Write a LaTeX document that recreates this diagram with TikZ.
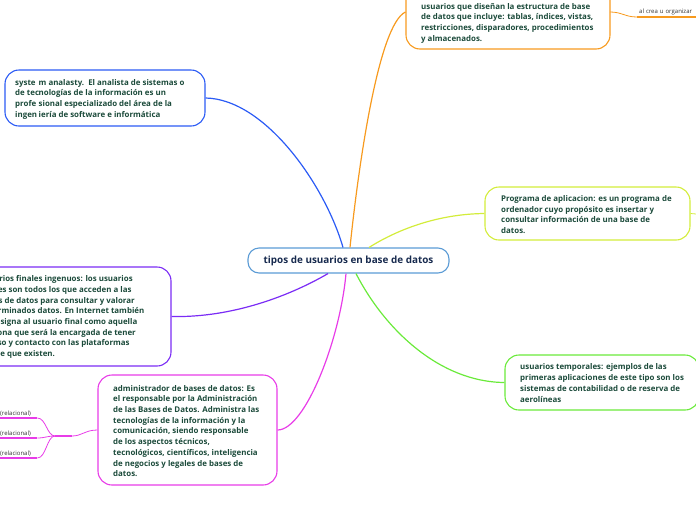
\documentclass[tikz,border=0pt]{standalone}
\usepackage{fontspec}
\setmainfont{Open Sans}
\usetikzlibrary{calc}
\definecolor{txt}{HTML}{1B4A3A}
\definecolor{navy}{HTML}{172A4E}
\definecolor{cblue}{HTML}{5B9BD5}
\definecolor{bblue}{HTML}{2B5BF5}
\definecolor{borange}{HTML}{F79A1E}
\definecolor{bylw}{HTML}{D3EC3A}
\definecolor{bgreen}{HTML}{6AEA3A}
\definecolor{bpurple}{HTML}{7B2CF5}
\definecolor{bmagenta}{HTML}{E83CE8}
\definecolor{smalltxt}{HTML}{333333}
\begin{document}
\begin{tikzpicture}[x=1pt,y=-1pt,
  box/.style={draw, rounded corners=14pt, line width=1.1pt, inner sep=0pt},
  txtn/.style={anchor=west, inner sep=0pt, align=left, text=txt,
    font=\bfseries\fontsize{7.9}{10.7}\selectfont},
  conn/.style={line width=1.2pt},
  reln/.style={anchor=south west, inner xsep=0pt, inner ysep=1.5pt, minimum width=37pt,
    text width=37pt, align=left, text=smalltxt, font=\fontsize{6}{7}\selectfont}
]
\useasboundingbox (0,0) rectangle (696,520);
\clip (0,0) rectangle (696,520);

% central node
\node[draw=cblue, line width=1.1pt, rounded corners=11pt, minimum width=201pt,
  minimum height=25pt, inner sep=0pt, text=navy,
  font=\bfseries\fontsize{9.9}{11}\selectfont] (c) at (348.5,260.5)
  {tipos de usuarios en base de datos};

% orange (top)
\node[box, draw=borange, minimum width=204pt, minimum height=74pt] (bo) at (508,12) {};
\node[txtn] (to) at (421,23) {usuarios que diseñan la estructura de base\\
de datos que incluye: tablas, índices, vistas,\\
restricciones, disparadores, procedimientos\\
y almacenados.};

% blue
\node[box, draw=bblue, minimum width=200pt, minimum height=56pt] (bb) at (105,98) {};
\node[txtn] (tb) at (15,99) {\makebox[23.5pt][l]{syste}m analasty.\ \ El analista de sistemas o\\
\makebox[23.5pt][l]{de tec}nologías de la información es un\\
\makebox[23.5pt][l]{profe}sional especializado del área de la\\
\makebox[23.5pt][l]{ingen}iería de software e informática};

% yellow-green
\node[box, draw=bylw, minimum width=205pt, minimum height=53pt] (by) at (587.5,213.5) {};
\node[txtn] (ty) at (501,214.5) {Programa de aplicacion: es un programa de\\
ordenador cuyo propósito es insertar y\\
consultar información de una base de\\
datos.};

% green
\node[box, draw=bgreen, minimum width=194pt, minimum height=55pt] (bg) at (602,382.5) {};
\node[txtn] (tg) at (520,383) {usuarios temporales: ejemplos de las\\
primeras aplicaciones de este tipo son los\\
sistemas de contabilidad o de reserva de\\
aerolíneas};

% purple
\node[box, draw=bpurple, minimum width=206pt, minimum height=99pt] (bp) at (68,316.5) {};
\node[txtn] (tp) at (-20,317) {usuarios finales ingenuos: los usuarios\\
finales son todos los que acceden a las\\
bases de datos para consultar y valorar\\
determinados datos. En Internet también\\
se designa al usuario final como aquella\\
persona que será la encargada de tener\\
acceso y contacto con las plataformas\\
online que existen.};

% magenta
\node[box, draw=bmagenta, minimum width=179pt, minimum height=110pt] (bm) at (187.5,430) {};
\node[txtn] (tm) at (113,431) {administrador de bases de datos: Es\\
el responsable por la Administración\\
de las Bases de Datos. Administra las\\
tecnologías de la información y la\\
comunicación, siendo responsable\\
de los aspectos técnicos,\\
tecnológicos, científicos, inteligencia\\
de negocios y legales de bases de\\
datos.};

% connectors from center
\draw[conn, bblue] (bb.east) .. controls (265,99) and (325,185) .. ([xshift=-5.5pt]c.north);
\draw[conn, borange] (bo.west) .. controls (378,25) and (358,170) .. ([xshift=1.5pt]c.north);
\draw[conn, bylw] (by.west) .. controls (440,214) and (400,228) .. ([xshift=20.5pt]c.north);
\draw[conn, bgreen] (bg.west) .. controls (440,382) and (385,330) .. ([xshift=7.5pt]c.south);
\draw[conn, bpurple] (bp.east) .. controls (240,318) and (300,290) .. ([xshift=-20.5pt]c.south);
\draw[conn, bmagenta] (bm.east) .. controls (305,430) and (340,340) .. ([xshift=-2.5pt]c.south);

% top right sub-topic of orange
\coordinate (oj) at (610,12);
\node[reln, minimum width=59pt, text width=56pt, inner xsep=2pt] (al) at (637,17) {al crea u organizar};
\draw[line width=0.8pt, borange] (oj) .. controls (622,12) and (625,17) .. (al.south west);
\draw[line width=2pt, borange] (al.south west) -- (al.south east);

% yellow small stub
\coordinate (ye) at (696,214);
\draw[line width=0.8pt, bylw] (by.east) -- (ye);

% magenta left sub-topics
\coordinate (mj1) at (72,436);
\coordinate (mj0) at (55,436);
\node[reln] (r1) at (0,418) {(relacional)};
\node[reln] (r2) at (0,438) {(relacional)};
\node[reln] (r3) at (0,458) {(relacional)};
\draw[line width=0.8pt, bmagenta] (bm.west) .. controls (85,430) and (82,436) .. (mj1);
\draw[line width=2.2pt, bmagenta] (mj1) -- (mj0);
\draw[line width=0.8pt, bmagenta] (mj0) .. controls (47,436) and (46,418) .. (r1.south east);
\draw[line width=0.8pt, bmagenta] (mj0) .. controls (47,436) and (45,438) .. (r2.south east);
\draw[line width=0.8pt, bmagenta] (mj0) .. controls (47,436) and (46,458) .. (r3.south east);
\foreach \r in {r1,r2,r3} \draw[line width=2pt, bmagenta] (\r.south west) -- (\r.south east);
\end{tikzpicture}
\end{document}
